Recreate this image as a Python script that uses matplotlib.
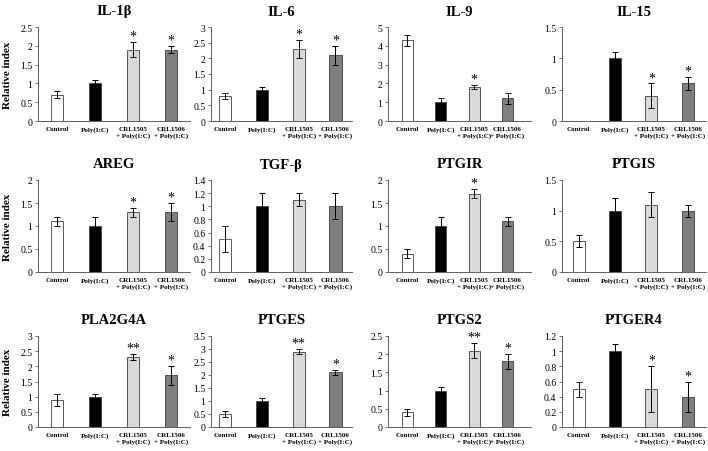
import numpy as np
import matplotlib
matplotlib.use("Agg")
import matplotlib.pyplot as plt

plt.rcParams['font.family'] = ['Liberation Serif', 'DejaVu Serif']

groups = ["Control", "Poly(I:C)", "CRL1505\n+ Poly(I:C)", "CRL1506\n+ Poly(I:C)"]
genes = ["IL-1β", "IL-6", "IL-9", "IL-15",
         "AREG", "TGF-β", "PTGIR", "PTGIS",
         "PLA2G4A", "PTGES", "PTGS2", "PTGER4"]
means = [[0.7, 1.0, 1.9, 1.9], [0.8, 1.0, 2.3, 2.1], [4.3, 1.0, 1.8, 1.2], [0.0, 1.0, 0.4, 0.6],
         [1.1, 1.0, 1.3, 1.3], [0.5, 1.0, 1.1, 1.0], [0.4, 1.0, 1.7, 1.1], [0.5, 1.0, 1.1, 1.0],
         [0.9, 1.0, 2.3, 1.7], [0.5, 1.0, 2.9, 2.1], [0.4, 1.0, 2.1, 1.8], [0.5, 1.0, 0.5, 0.4]]
errs = [[0.1, 0.1, 0.2, 0.1], [0.1, 0.1, 0.3, 0.3], [0.3, 0.2, 0.1, 0.3], [0.0, 0.1, 0.2, 0.1],
        [0.1, 0.2, 0.1, 0.2], [0.2, 0.2, 0.1, 0.2], [0.1, 0.2, 0.1, 0.1], [0.1, 0.2, 0.2, 0.1],
        [0.2, 0.1, 0.1, 0.3], [0.1, 0.1, 0.1, 0.1], [0.1, 0.1, 0.2, 0.2], [0.1, 0.1, 0.3, 0.2]]
stars = [["", "", "*", "*"], ["", "", "*", "*"], ["", "", "*", ""], ["", "", "*", "*"],
         ["", "", "*", "*"], ["", "", "", ""], ["", "", "*", ""], ["", "", "", ""],
         ["", "", "**", "*"], ["", "", "**", "*"], ["", "", "**", "*"], ["", "", "*", "*"]]
ymax = [2.5, 3, 5, 1.5, 2, 1.4, 2, 1.5, 3, 3.5, 2.5, 1.2]
ystep = [0.5, 0.5, 1, 0.5, 0.5, 0.2, 0.5, 0.5, 0.5, 0.5, 0.5, 0.2]

colors = ["white", "black", "#d9d9d9", "#7f7f7f"]

W, H = 708, 452
cols = [(38, 190), (211, 352), (388, 531), (562, 706)]
xlims = [(-0.5, 3.5), (-0.38, 3.45), (-0.57, 3.7), (-0.46, 3.5)]
rows = [(28, 122), (181, 273), (337, 428)]

fig = plt.figure(figsize=(W / 100, H / 100), dpi=100)

for i, gene in enumerate(genes):
    r, c = divmod(i, 4)
    x0, x1 = cols[c]
    y0, y1 = rows[r]
    ax = fig.add_axes([x0 / W, 1 - y1 / H, (x1 - x0) / W, (y1 - y0) / H])
    x = np.arange(4)
    ax.bar(x, means[i], width=0.33, color=colors, edgecolor="#404040", linewidth=0.6)
    for j in range(4):
        if errs[i][j] > 0:
            ax.errorbar(x[j], means[i][j], yerr=errs[i][j], fmt="none",
                        ecolor="black", elinewidth=0.7, capsize=2.2, capthick=0.7)
        if stars[i][j]:
            ax.annotate(stars[i][j], (x[j], means[i][j] + errs[i][j]),
                        xytext=(0, -0.5), textcoords="offset points",
                        ha="center", va="bottom", fontsize=10)
    ax.set_xlim(*xlims[c])
    ax.set_ylim(0, ymax[i])
    ax.set_yticks(np.arange(0, ymax[i] + 1e-9, ystep[i]))
    ax.set_yticklabels(["%g" % round(t, 2) for t in ax.get_yticks()], fontsize=7)
    ax.set_xticks(x)
    ax.set_xticklabels(groups, fontsize=5, fontweight="bold", linespacing=1.35)
    ax.tick_params(axis="x", length=0, pad=3.5)
    ax.tick_params(axis="y", length=2, width=0.6, pad=2, color="#606060")
    for s in ["top", "right"]:
        ax.spines[s].set_visible(False)
    for s in ["left", "bottom"]:
        ax.spines[s].set_color("#606060")
        ax.spines[s].set_linewidth(0.7)
    ax.set_title(gene, fontsize=10.5, fontweight="bold", pad=9)
    if c == 0:
        ax.set_ylabel("Relative index", fontsize=8, fontweight="bold", labelpad=6)

fig.savefig("out.png", dpi=100)
